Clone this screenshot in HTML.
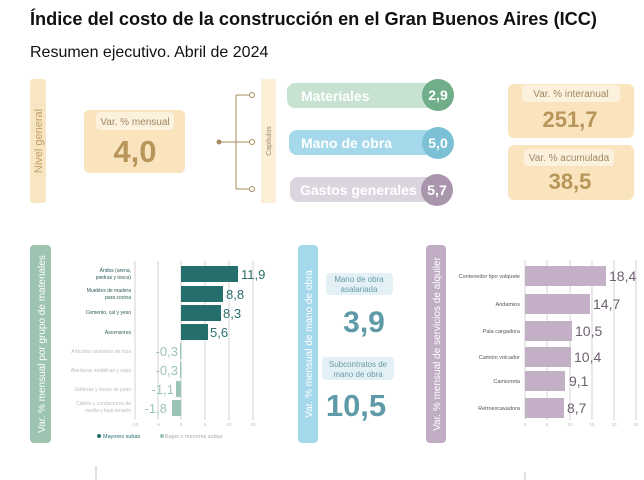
<!DOCTYPE html>
<html><head><meta charset="utf-8"><style>
body{margin:0;background:#fff;width:644px;height:480px;overflow:hidden;font-family:"Liberation Sans",sans-serif}
svg{display:block}
</style></head><body>
<svg width="644" height="480" viewBox="0 0 644 480" font-family="Liberation Sans, sans-serif">
<text x="30" y="25" font-size="18" font-weight="bold" fill="#111" textLength="567" lengthAdjust="spacingAndGlyphs">Índice del costo de la construcción en el Gran Buenos Aires (ICC)</text>
<text x="30" y="57" font-size="16" fill="#111">Resumen ejecutivo. Abril de 2024</text>

<!-- Nivel general -->
<rect x="30" y="79" width="16" height="124" rx="3" fill="#f8e6c2"/>
<text transform="translate(42,141) rotate(-90)" text-anchor="middle" font-size="11" fill="#c09e68">Nivel general</text>
<rect x="84" y="110" width="101" height="63" rx="5" fill="#f9e4bd"/>
<rect x="96" y="112" width="78" height="18" rx="4" fill="#fcf1dd"/>
<text x="135" y="125" text-anchor="middle" font-size="10" fill="#a08766">Var. % mensual</text>
<text x="135" y="162" text-anchor="middle" font-size="31" font-weight="bold" fill="#b8955a">4,0</text>
<!-- connector -->
<circle cx="219" cy="142" r="2.5" fill="#a88b5e"/>
<path d="M219 142H252M236 95V189M236 95H249M236 189H249" stroke="#a88b5e" stroke-width="1" fill="none"/>
<circle cx="252" cy="95" r="2.5" fill="#fff" stroke="#a88b5e"/>
<circle cx="252" cy="142" r="2.5" fill="#fff" stroke="#a88b5e"/>
<circle cx="252" cy="189" r="2.5" fill="#fff" stroke="#a88b5e"/>
<rect x="261" y="79" width="15" height="124" fill="#fbefd7"/>
<text transform="translate(271,141) rotate(-90)" text-anchor="middle" font-size="7" fill="#a08766">Capítulos</text>
<!-- pills -->
<rect x="287" y="83" width="150" height="25" rx="8" fill="#c8e2d2"/>
<circle cx="438" cy="95" r="16" fill="#6fae88"/>
<text x="301" y="101" font-size="14" font-weight="bold" fill="#fff">Materiales</text>
<text x="438" y="100" text-anchor="middle" font-size="14" font-weight="bold" fill="#fff">2,9</text>
<rect x="289" y="130" width="148" height="25" rx="8" fill="#a5d8ea"/>
<circle cx="438" cy="143" r="16" fill="#7cc0d6"/>
<text x="301" y="148" font-size="14" font-weight="bold" fill="#fff">Mano de obra</text>
<text x="438" y="148" text-anchor="middle" font-size="14" font-weight="bold" fill="#fff">5,0</text>
<rect x="290" y="177" width="147" height="25" rx="8" fill="#dcd4df"/>
<circle cx="437" cy="190" r="16" fill="#a996ad"/>
<text x="300" y="195" font-size="14" font-weight="bold" fill="#fff">Gastos generales</text>
<text x="437" y="195" text-anchor="middle" font-size="14" font-weight="bold" fill="#fff">5,7</text>
<!-- right boxes -->
<rect x="508" y="84" width="126" height="54" rx="6" fill="#f9e4bd"/>
<rect x="522" y="85" width="98" height="17" rx="4" fill="#fcf1dd"/>
<text x="571" y="97" text-anchor="middle" font-size="10" fill="#a08766">Var. % interanual</text>
<text x="570" y="127" text-anchor="middle" font-size="22" font-weight="bold" fill="#b8955a">251,7</text>
<rect x="508" y="145" width="126" height="55" rx="6" fill="#f9e4bd"/>
<rect x="524" y="149" width="90" height="17" rx="4" fill="#fcf1dd"/>
<text x="569" y="161" text-anchor="middle" font-size="10" fill="#a08766">Var. % acumulada</text>
<text x="570" y="189" text-anchor="middle" font-size="22" font-weight="bold" fill="#b8955a">38,5</text>

<!-- Panel 1 -->
<rect x="30" y="245" width="21" height="198" rx="4" fill="#9cc4b0"/>
<text transform="translate(45,344) rotate(-90)" text-anchor="middle" font-size="10" fill="#fff">Var. % mensual por grupo de materiales</text>
<g stroke="#c8c8c8" stroke-width="0.8">
<line x1="135" y1="261" x2="135" y2="420"/><line x1="158" y1="261" x2="158" y2="420"/><line x1="181" y1="261" x2="181" y2="420"/><line x1="205" y1="261" x2="205" y2="420"/><line x1="229" y1="261" x2="229" y2="420"/><line x1="253" y1="261" x2="253" y2="420"/></g>
<g font-size="4.5" fill="#bbb" text-anchor="middle"><text x="135" y="426">-10</text><text x="158" y="426">-5</text><text x="181" y="426">0</text><text x="205" y="426">5</text><text x="229" y="426">10</text><text x="253" y="426">15</text></g>
<g fill="#246e6b"><rect x="181" y="266" width="57" height="16"/><rect x="181" y="286" width="42" height="16"/><rect x="181" y="305" width="40" height="16"/><rect x="181" y="324" width="27" height="16"/></g>
<g fill="#9cc4b4"><rect x="180" y="343" width="1.5" height="16"/><rect x="180" y="362" width="1.5" height="16"/><rect x="176" y="381" width="5" height="16"/><rect x="172" y="400" width="9" height="16"/></g>
<g font-size="13" fill="#2a6f6b"><text x="241" y="279">11,9</text><text x="226" y="299">8,8</text><text x="223" y="318">8,3</text><text x="210" y="337">5,6</text></g>
<g font-size="13" fill="#9cc4b4" text-anchor="end"><text x="178" y="356">-0,3</text><text x="178" y="375">-0,3</text><text x="174" y="394">-1,1</text><text x="167" y="413">-1,8</text></g>
<g font-size="5" fill="#2a5a58" text-anchor="end"><text x="131" y="272">Áridos (arena,</text><text x="131" y="279">piedras y tosca)</text><text x="131" y="292">Muebles de madera</text><text x="131" y="299">para cocina</text><text x="131" y="314">Cemento, cal y yeso</text><text x="131" y="334">Ascensores</text></g>
<g font-size="5" fill="#bbb" text-anchor="end"><text x="131" y="353">Artículos sanitarios de loza</text><text x="131" y="372">Aberturas metálicas y rejas</text><text x="131" y="391">Griferías y llaves de paso</text><text x="131" y="405">Cables y conductores de</text><text x="131" y="412">media y baja tensión</text></g>
<circle cx="99" cy="436" r="2" fill="#246e6b"/><text x="103" y="438" font-size="5.5" fill="#246e6b">Mayores subas</text>
<circle cx="162" cy="436" r="2" fill="#9cc4b4"/><text x="165" y="438" font-size="5.5" fill="#aaa">Bajas o menores subas</text>

<!-- Panel 2 -->
<rect x="298" y="245" width="20" height="198" rx="4" fill="#a5d8ea"/>
<text transform="translate(312,344) rotate(-90)" text-anchor="middle" font-size="10" fill="#fff">Var. % mensual de mano de obra</text>
<rect x="326" y="273" width="67" height="22" rx="4" fill="#e3f1f6"/>
<text x="359" y="282" text-anchor="middle" font-size="8" fill="#6a9aa8">Mano de obra</text>
<text x="359" y="292" text-anchor="middle" font-size="8" fill="#6a9aa8">asalariada</text>
<text x="364" y="332" text-anchor="middle" font-size="30" font-weight="bold" fill="#5e9aa8">3,9</text>
<rect x="322" y="357" width="72" height="23" rx="4" fill="#e3f1f6"/>
<text x="358" y="367" text-anchor="middle" font-size="8" fill="#6a9aa8">Subcontratos de</text>
<text x="358" y="377" text-anchor="middle" font-size="8" fill="#6a9aa8">mano de obra</text>
<text x="356" y="416" text-anchor="middle" font-size="31" font-weight="bold" fill="#5e9aa8">10,5</text>

<!-- Panel 3 -->
<rect x="426" y="245" width="20" height="198" rx="4" fill="#c0adc4"/>
<text transform="translate(440,344) rotate(-90)" text-anchor="middle" font-size="10" fill="#fff">Var. % mensual de servicios de alquiler</text>
<g stroke="#c8c8c8" stroke-width="0.8"><line x1="525" y1="260" x2="525" y2="420"/><line x1="547" y1="260" x2="547" y2="420"/><line x1="570" y1="260" x2="570" y2="420"/><line x1="592" y1="260" x2="592" y2="420"/><line x1="614" y1="260" x2="614" y2="420"/><line x1="636" y1="260" x2="636" y2="420"/></g>
<g font-size="4.5" fill="#bbb" text-anchor="middle"><text x="525" y="426">0</text><text x="547" y="426">5</text><text x="570" y="426">10</text><text x="592" y="426">15</text><text x="614" y="426">20</text><text x="636" y="426">25</text></g>
<g fill="#c4b0c6"><rect x="525" y="266" width="81" height="20"/><rect x="525" y="294" width="65" height="20"/><rect x="525" y="321" width="47" height="20"/><rect x="525" y="347" width="46" height="20"/><rect x="525" y="371" width="40" height="20"/><rect x="525" y="398" width="39" height="20"/></g>
<g font-size="14" fill="#6e6070"><text x="609" y="281">18,4</text><text x="593" y="309">14,7</text><text x="575" y="336">10,5</text><text x="574" y="362">10,4</text><text x="569" y="386">9,1</text><text x="567" y="413">8,7</text></g>
<g font-size="5.5" fill="#555" text-anchor="end"><text x="520" y="278">Contenedor tipo volquete</text><text x="520" y="306">Andamios</text><text x="520" y="333">Pala cargadora</text><text x="520" y="359">Camión volcador</text><text x="520" y="383">Camioneta</text><text x="520" y="410">Retroexcavadora</text></g>
<line x1="96" y1="466" x2="96" y2="480" stroke="#999" stroke-width="0.6"/>
<line x1="525" y1="472" x2="525" y2="480" stroke="#999" stroke-width="0.6"/>
</svg>
</body></html>
